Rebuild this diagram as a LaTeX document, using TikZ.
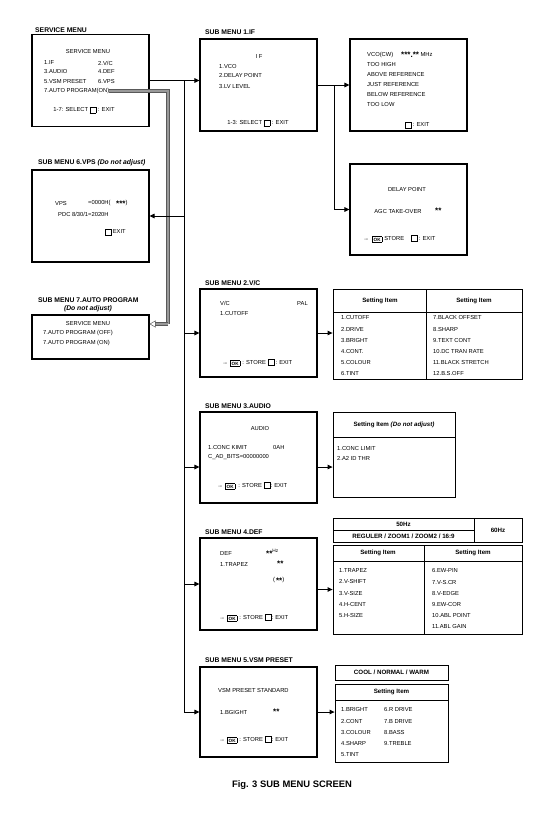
\documentclass[tikz,border=0pt]{standalone}
\usepackage{fontspec}
\setmainfont{Liberation Sans}
\usetikzlibrary{arrows.meta}

\newcommand{\exitkey}{\raisebox{-0.8pt}{\setlength{\fboxsep}{0pt}\setlength{\fboxrule}{0.8pt}\fbox{\rule{0pt}{5pt}\hspace{5pt}}}}
\newcommand{\okkey}{\raisebox{-0.8pt}{\setlength{\fboxsep}{0.9pt}\setlength{\fboxrule}{0.8pt}\fbox{\fontsize{4.6}{5}\selectfont\bfseries OK}}}
\newcommand{\vstars}[1]{\raisebox{-1.8pt}{\fontsize{8}{8}\selectfont\bfseries #1}}

\begin{document}
\begin{tikzpicture}[
    x=1pt, y=-1pt,
    >={Triangle[length=5pt,width=4.5pt]},
    menubox/.style={
      rectangle,
      minimum width=117pt,
      minimum height=92pt,
      inner sep=0pt,
      line width=1.1pt,
      draw
    },
    itembox/.style={
      rectangle,
      inner sep=0pt,
      line width=0.8pt,
      draw
    },
    menutext/.style={anchor=west, inner sep=0pt, font=\fontsize{5.8}{6.5}\selectfont},
    centertext/.style={menutext, anchor=center},
    coltext/.style={anchor=north west, align=left, inner sep=0pt, font=\fontsize{5.8}{11.2}\selectfont},
    menutitle/.style={anchor=west, inner sep=0pt, font=\bfseries\fontsize{6.8}{8}\selectfont},
    headtext/.style={anchor=center, inner sep=0pt, font=\bfseries\fontsize{6.2}{7}\selectfont},
    autoline/.style={
      draw=black!65,
      line width=0.5pt,
      double=black!40,
      double distance=2.2pt
    },
  ]
  \useasboundingbox (0,0) rectangle (553,817);

  %%%%%%%%%%%%%%%%%%%%%%%%%%%%%%%%%%%%%%%%%%%%%%
  %%%%%%%%%%%%%%%% MENU BOXES %%%%%%%%%%%%%%%%%%%%%
  %%%%%%%%%%%%%%%%%%%%%%%%%%%%%%%%%%%%%%%%%%%%%%
    \node[menubox] (service) at (90.5,80.5) {};
    \node[menubox] (if) at (258.5,85) {};
    \node[menubox] (vco) at (408.5,85) {};
    \node[menubox] (vps) at (90.5,216) {};
    \node[menubox, minimum height=91pt] (delay) at (408.5,209.5) {};
    \node[menubox, minimum height=44pt] (auto) at (90.5,337) {};
    \node[menubox, minimum height=88pt] (vc) at (258.5,333) {};
    \node[menubox, minimum height=91pt] (audio) at (258.5,457.5) {};
    \node[menubox] (def) at (258.5,584) {};
    \node[menubox, minimum height=90pt] (vsm) at (258.5,712) {};

    % service menu
    \node[menutitle] (t-service) at (35,30) {SERVICE MENU};
    \node[centertext] (sm-head) at (88,52) {SERVICE MENU};
    \node[menutext] (sm-if) at (44,63) {1.IF};
    \node[menutext] (sm-vc) at (98,63) {2.V/C};
    \node[menutext] (sm-audio) at (44,72) {3.AUDIO};
    \node[menutext] (sm-def) at (98,72) {4.DEF};
    \node[menutext] (sm-vsm) at (44,82) {5.VSM PRESET};
    \node[menutext] (sm-vps) at (98,82) {6.VPS};
    \node[menutext] (sm-auto) at (44,91) {7.AUTO PROGRAM(ON)};
    \node[centertext] (sm-select) at (84,110) {1-7: SELECT \exitkey\ : EXIT};

    % sub menu 1.IF
    \node[menutitle] (t-if) at (205,32) {SUB MENU 1.IF};
    \node[centertext] (if-head) at (259,57) {I F};
    \node[menutext] (if-vco) at (219,67) {1.VCO};
    \node[menutext] (if-delay) at (219,76) {2.DELAY POINT};
    \node[menutext] (if-lv) at (219,87) {3.LV LEVEL};
    \node[centertext] (if-select) at (258,123) {1-3: SELECT \exitkey\ : EXIT};

    \node[menutext] (vco-cw) at (367,55) {VCO(CW)};
    \node[menutext] (vco-freq) at (401,55) {\vstars{***.**} MHz};
    \node[menutext] (vco-high) at (367,65) {TOO HIGH};
    \node[menutext] (vco-above) at (367,75) {ABOVE REFERENCE};
    \node[menutext] (vco-just) at (367,85) {JUST REFERENCE};
    \node[menutext] (vco-below) at (367,95) {BELOW REFERENCE};
    \node[menutext] (vco-low) at (367,105) {TOO LOW};
    \node[menutext] (vco-exit) at (405,125) {\exitkey\,: EXIT};

    \node[centertext] (dl-head) at (407,189) {DELAY POINT};
    \node[centertext] (dl-agc) at (398,211) {AGC TAKE-OVER};
    \node[menutext] (dl-value) at (435,211) {\vstars{**}};
    \node[menutext] (dl-store) at (363,239) {→\hspace{3pt}\okkey\hspace{2pt}STORE\hspace{7pt}\exitkey\hspace{1pt}: EXIT};

    % sub menu 6.VPS
    \node[menutitle] (t-vps) at (38,163) {SUB MENU 6.VPS \textit{(Do not adjust)}};
    \node[menutext] (vps-label) at (55,203) {VPS};
    \node[menutext] (vps-value) at (88,203) {=0000H(};
    \node[menutext] (vps-stars) at (116,203) {\vstars{***})};
    \node[menutext] (vps-pdc) at (58,214) {PDC 8/30/1=2020H};
    \node[menutext] (vps-exit) at (105,232) {\exitkey\,EXIT};

    % sub menu 7.AUTO PROGRAM
    \node[menutitle] (t-auto) at (38,300) {SUB MENU 7.AUTO PROGRAM};
    \node[menutitle, anchor=center] (t-auto-note) at (88,309) {\textit{(Do not adjust)}};
    \node[centertext] (ap-head) at (88,323) {SERVICE MENU};
    \node[menutext] (ap-off) at (43,333) {7.AUTO PROGRAM (OFF)};
    \node[menutext] (ap-on) at (43,343) {7.AUTO PROGRAM (ON)};

    % sub menu 2.V/C
    \node[menutitle] (t-vc) at (205,283) {SUB MENU 2.V/C};
    \node[menutext] (vc-head) at (220,303) {V/C};
    \node[menutext] (vc-pal) at (297,303) {PAL};
    \node[menutext] (vc-cutoff) at (220,313) {1.CUTOFF};
    \node[menutext] (vc-store) at (222,363) {→\hspace{2pt}\okkey\hspace{2pt}: STORE\hspace{2pt}\exitkey\hspace{1pt}: EXIT};

    % sub menu 3.AUDIO
    \node[menutitle] (t-audio) at (205,406) {SUB MENU 3.AUDIO};
    \node[centertext] (au-head) at (260,428) {AUDIO};
    \node[menutext] (au-conc) at (208,447) {1.CONC KIMIT};
    \node[menutext] (au-value) at (273,447) {0AH};
    \node[menutext] (au-bits) at (208,457) {C\_AD\_BITS=00000000};
    \node[menutext] (au-store) at (217,486) {→\hspace{2pt}\okkey\hspace{3pt}: STORE\hspace{2pt}\exitkey: EXIT};

    % sub menu 4.DEF
    \node[menutitle] (t-def) at (205,532) {SUB MENU 4.DEF};
    \node[menutext] (df-head) at (220,553) {DEF};
    \node[menutext] (df-freq) at (266,553) {\vstars{**}\raisebox{2.5pt}{\fontsize{4.8}{5}\selectfont Hz}};
    \node[menutext] (df-trapez) at (220,564) {1.TRAPEZ};
    \node[menutext] (df-value) at (277,564) {\vstars{**}};
    \node[menutext] (df-range) at (273,580) {(\,\vstars{**})};
    \node[menutext] (df-store) at (219,618) {→\hspace{2pt}\okkey\hspace{2pt}: STORE\hspace{2pt}\exitkey: EXIT};

    % sub menu 5.VSM PRESET
    \node[menutitle] (t-vsm) at (205,660) {SUB MENU 5.VSM PRESET};
    \node[menutext] (vs-head) at (218,690) {VSM PRESET STANDARD};
    \node[menutext] (vs-bright) at (220,712) {1.BGIGHT};
    \node[menutext] (vs-value) at (273,712) {\vstars{**}};
    \node[menutext] (vs-store) at (219,740) {→\hspace{2pt}\okkey\hspace{2pt}: STORE\hspace{2pt}\exitkey: EXIT};

  %%%%%%%%%%%%%%%%%%%%%%%%%%%%%%%%%%%%%%%%%%%%%%
  %%%%%%%%%%%%%%%% SETTING TABLES %%%%%%%%%%%%%%%%%%%
  %%%%%%%%%%%%%%%%%%%%%%%%%%%%%%%%%%%%%%%%%%%%%%
    \node[itembox, minimum width=189pt, minimum height=90pt] (vctab) at (427.5,334) {};
    \draw[line width=0.8pt] (333,312) -- (522,312);
    \draw[line width=0.8pt] (426,289) -- (426,379);
    \node[headtext] (vt-head-left) at (380,300.5) {Setting Item};
    \node[headtext] (vt-head-right) at (474,300.5) {Setting Item};
    \node[coltext] (vt-left) at (341,315.6) {1.CUTOFF\\2.DRIVE\\3.BRIGHT\\4.CONT.\\5.COLOUR\\6.TINT};
    \node[coltext] (vt-right) at (433,315.6) {7.BLACK OFFSET\\8.SHARP\\9.TEXT CONT\\10.DC TRAN RATE\\11.BLACK STRETCH\\12.B.S.OFF};

    \node[itembox, minimum width=122pt, minimum height=85pt] (audiotab) at (394,454.5) {};
    \draw[line width=0.8pt] (333,437) -- (455,437);
    \node[headtext] (at-head) at (394,425) {Setting Item \textit{(Do not adjust)}};
    \node[menutext] (at-conc) at (337,448) {1.CONC LIMIT};
    \node[menutext] (at-a2) at (337,458) {2.A2 ID THR};

    \node[itembox, minimum width=189pt, minimum height=24pt] (deffreq) at (427.5,530) {};
    \draw[line width=0.8pt] (333,530) -- (474,530);
    \draw[line width=0.8pt] (474,518) -- (474,542);
    \node[headtext] (df-50) at (403.5,524) {50Hz};
    \node[headtext] (df-mode) at (403.5,536) {REGULER / ZOOM1 / ZOOM2 / 16:9};
    \node[headtext] (df-60) at (498,530) {60Hz};

    \node[itembox, minimum width=189pt, minimum height=89pt] (deftab) at (427.5,589.5) {};
    \draw[line width=0.8pt] (333,561) -- (522,561);
    \draw[line width=0.8pt] (424,545) -- (424,634);
    \node[headtext] (dt-head-left) at (378,553) {Setting Item};
    \node[headtext] (dt-head-right) at (473,553) {Setting Item};
    \node[coltext] (dt-left) at (339,568.6) {1.TRAPEZ\\2.V-SHIFT\\3.V-SIZE\\4.H-CENT\\5.H-SIZE};
    \node[coltext] (dt-right) at (432,568.6) {6.EW-PIN\\7.V-S.CR\\8.V-EDGE\\9.EW-COR\\10.ABL POINT\\11.ABL GAIN};

    \node[itembox, minimum width=113pt, minimum height=15pt] (vsmmode) at (391.5,672.5) {};
    \node[headtext] (vm-head) at (391.5,672.5) {COOL / NORMAL / WARM};
    \node[itembox, minimum width=113pt, minimum height=78pt] (vsmtab) at (391.5,723) {};
    \draw[line width=0.8pt] (335,700) -- (448,700);
    \node[headtext] (vt-head) at (391.5,692) {Setting Item};
    \node[coltext] (vm-left) at (341,707.6) {1.BRIGHT\\2.CONT\\3.COLOUR\\4.SHARP\\5.TINT};
    \node[coltext] (vm-right) at (384,707.6) {6.R DRIVE\\7.B DRIVE\\8.BASS\\9.TREBLE};

    \node[font=\bfseries\fontsize{9.4}{11}\selectfont] (caption) at (292,785) {Fig. 3 SUB MENU SCREEN};

  %%%%%%%%%%%%%%%%%%%%%%%%%%%%%%%%%%%%%%%%%%%%%%
  %%%%%%%%%%%%%%%% HELPING NODES %%%%%%%%%%%%%%%%%%%
  %%%%%%%%%%%%%%%%%%%%%%%%%%%%%%%%%%%%%%%%%%%%%%
    \coordinate (trunk-top) at (184,80.5);
    \coordinate (trunk-vps) at (184,216);
    \coordinate (trunk-vc) at (184,333);
    \coordinate (trunk-audio) at (184,467);
    \coordinate (trunk-def) at (184,584);
    \coordinate (trunk-bottom) at (184,712);

    \coordinate (if-delay) at (334,85);

    \coordinate (auto-top) at (168,91);
    \coordinate (auto-bottom) at (168,324);

  %%%%%%%%%%%%%%%%%%%%%%%%%%%%%%%%%%%%%%%%%%%%%%
  %%%%%%%%%%%%%%%%%% PATHS %%%%%%%%%%%%%%%%%%%%%%%
  %%%%%%%%%%%%%%%%%%%%%%%%%%%%%%%%%%%%%%%%%%%%%%
    \path [autoline] (sm-auto.east) -- (auto-top) -- (auto-bottom);
    \path [autoline, -{Triangle[open, length=6pt, width=7pt]}] (auto-bottom) -- (auto-bottom -| auto.east);

    \path [->, draw, line width=1pt] (service.east) -- (service.east -| if.west);
    \path [-, draw, line width=1pt] (trunk-top) -- (trunk-bottom);
    \path [->, draw, line width=1pt] (trunk-vps) -- (vps.east);
    \path [->, draw, line width=1pt] (trunk-vc) -- (vc.west);
    \path [->, draw, line width=1pt] (trunk-audio) -- (trunk-audio -| audio.west);
    \path [->, draw, line width=1pt] (trunk-def) -- (def.west);
    \path [->, draw, line width=1pt] (trunk-bottom) -- (vsm.west);

    \path [->, draw, line width=1pt] (if.east) -- (vco.west);
    \path [->, draw, line width=1pt] (if-delay) |- (delay.west);

    \path [->, draw, line width=1pt] (vc.east) -- (vc.east -| vctab.west);
    \path [->, draw, line width=1pt] (trunk-audio -| audio.east) -- (trunk-audio -| audiotab.west);
    \path [->, draw, line width=1pt] (def.east |- deftab.west) -- (deftab.west);
    \path [->, draw, line width=1pt] (vsm.east) -- (vsm.east -| vsmtab.west);

\end{tikzpicture}
\end{document}
